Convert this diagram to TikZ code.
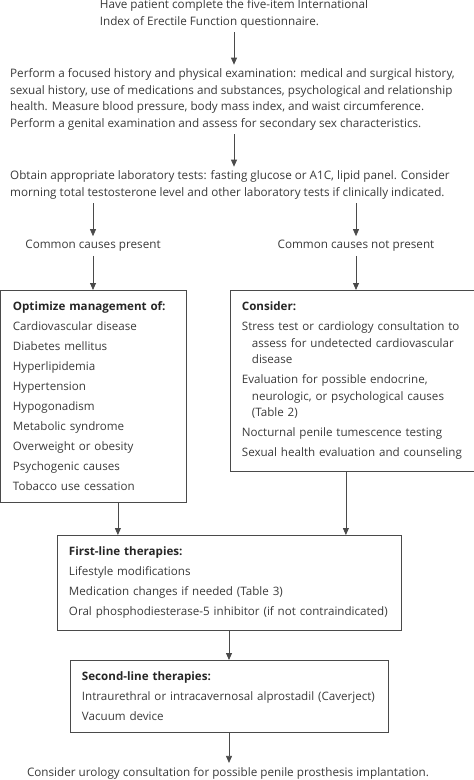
\documentclass[tikz,border=0pt]{standalone}
\usepackage{fontspec}
\setmainfont{Open Sans}
\usetikzlibrary{arrows.meta,positioning}
\definecolor{ink}{HTML}{3A3A3A}
\definecolor{rule}{HTML}{4A4A4A}
\newcommand{\itm}[1]{\par\vspace{3.5bp}\mbox{#1}}
\newcommand{\cont}[1]{\par\hspace*{10bp}\mbox{#1}}
\newcommand{\hd}[1]{\textbf{\color{black!85}#1}}

\begin{document}
\begin{tikzpicture}[x=1bp,y=-1bp]
\tikzset{
  txt/.style={text=ink, align=left, inner sep=4bp,
    font=\fontsize{11.7bp}{16.5bp}\selectfont},
  box/.style={txt, draw=rule, line width=0.8bp, inner xsep=12bp, inner ysep=11.5bp,
    font=\fontsize{11.6bp}{16.5bp}\selectfont},
  arr/.style={draw=rule, line width=0.8bp, -{Triangle[length=7bp,width=6bp]}},
  lne/.style={draw=rule, line width=0.8bp}
}
\useasboundingbox (0,0) rectangle (474,780);

\node[txt] (iief) at (234,14) {Have patient complete the five-item International\\Index of Erectile Function questionnaire.};
\node[txt, anchor=west] (exam) at (6,99.5) {Perform a focused history and physical examination: medical and surgical history,\\sexual history, use of medications and substances, psychological and relationship\\health. Measure blood pressure, body mass index, and waist circumference.\\Perform a genital examination and assess for secondary sex characteristics.};
\node[txt, anchor=west] (labs) at (6,185) {Obtain appropriate laboratory tests: fasting glucose or A1C, lipid panel. Consider\\morning total testosterone level and other laboratory tests if clinically indicated.};
\node[txt] (cp) at (93,246) {Common causes present};
\node[txt] (cnp) at (356,246) {Common causes not present};

\node[box, text width=161bp, anchor=north west] (optim) at (0.5,290) {\hd{Optimize management of:}
  \itm{Cardiovascular disease}
  \itm{Diabetes mellitus}
  \itm{Hyperlipidemia}
  \itm{Hypertension}
  \itm{Hypogonadism}
  \itm{Metabolic syndrome}
  \itm{Overweight or obesity}
  \itm{Psychogenic causes}
  \itm{Tobacco use cessation}};
\node[box, text width=221bp, anchor=north west] (consider) at (229.5,290) {\hd{Consider:}
  \itm{Stress test or cardiology consultation to}
  \cont{assess for undetected cardiovascular}
  \cont{disease}
  \itm{Evaluation for possible endocrine,}
  \cont{neurologic, or psychological causes}
  \cont{(Table 2)}
  \itm{Nocturnal penile tumescence testing}
  \itm{Sexual health evaluation and counseling}};

\node[box, text width=320bp, anchor=north] (first) at (229,535) {\hd{First-line therapies:}
  \itm{Lifestyle modifications}
  \itm{Medication changes if needed (Table 3)}
  \itm{Oral phosphodiesterase-5 inhibitor (if not contraindicated)}};
\node[box, text width=294bp, anchor=north] (second) at (229,660) {\hd{Second-line therapies:}
  \itm{Intraurethral or intracavernosal alprostadil (Caverject)}
  \itm{Vacuum device}};
\node[txt] (uro) at (228,773) {Consider urology consultation for possible penile prosthesis implantation.};

% connectors
\draw[arr] (iief.south) -- (iief.south |- exam.north);
\draw[arr] (iief.south |- exam.south) -- (iief.south |- labs.north);
\draw[arr] (labs.south -| cp.north) -- (cp.north);
\draw[arr] (labs.south -| cnp.north) -- (cnp.north);
\draw[arr] (cp.south) -- (cp.south |- optim.north);
\draw[arr] (cnp.south) -- (cnp.south |- consider.north);
\draw[arr] ([xshift=24.5bp]optim.south) -- ([xshift=24.5bp]optim.south |- first.north);
\draw[arr] ([xshift=-6.5bp]consider.south) -- ([xshift=-6.5bp]consider.south |- first.north);
\draw[arr] (first.south) -- (second.north);
\draw[arr] (second.south) -- (second.south |- uro.north);
\end{tikzpicture}
\end{document}
